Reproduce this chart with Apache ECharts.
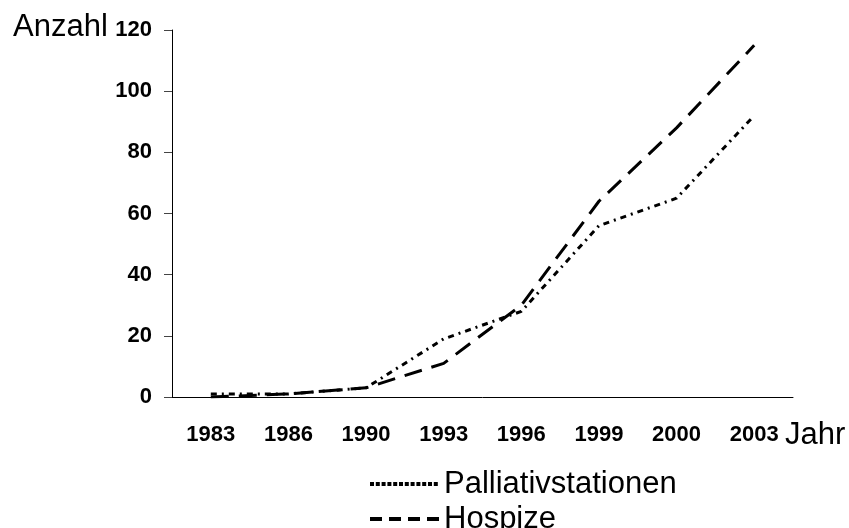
<!DOCTYPE html>
<html>
<head>
<meta charset="utf-8">
<script src="https://cdn.jsdelivr.net/npm/echarts@6/dist/echarts.min.js"></script>
<style>
html, body { margin: 0; padding: 0; background: #fff; }
#main { width: 849px; height: 528px; }
</style>
</head>
<body>
<div id="main"></div>
<script>
// Jahre und Werte
var jahre = ['1983', '1986', '1990', '1993', '1996', '1999', '2000', '2003'];
var palliativ = [1, 1, 3, 19, 28, 56, 65, 92];
var hospize = [0, 1, 3, 11, 30, 64, 88, 115];
var yTicks = [0, 20, 40, 60, 80, 100, 120];

var font = 'Liberation Sans, Arial, sans-serif';

// eine Legende pro Eintrag, untereinander
function makeLegend(name, top, dash) {
	return {
		orient: 'vertical',
		left: 368,
		top: top,
		padding: 0,
		itemWidth: 69,
		itemHeight: 14,
		textStyle: { color: '#000', fontFamily: font, fontSize: 31, lineHeight: 32 },
		data: [{
			name: name,
			itemStyle: { opacity: 0 }, // kein Punkt im Symbol
			lineStyle: { type: dash, width: 4, cap: 'butt', opacity: 1 }
		}]
	}
}

var myChart = echarts.init(document.getElementById('main'));
var option = {
	backgroundColor: '#fff',
	animation: false,
	grid: { left: 172, right: 56, top: 30, bottom: 131 },
	xAxis: {
		type: 'category',
		data: jahre,
		boundaryGap: true,
		axisLine: { lineStyle: { color: '#000', width: 1 } },
		axisTick: { show: false },
		axisLabel: { color: '#000', fontFamily: font, fontWeight: 'bold', fontSize: 22, margin: 27 }
	},
	yAxis: {
		type: 'value',
		min: yTicks[0],
		max: yTicks[yTicks.length - 1],
		interval: 20,
		splitLine: { show: false },
		axisLine: { show: true, lineStyle: { color: '#000', width: 1 } },
		axisTick: { show: true, length: 8, lineStyle: { color: '#444' } },
		axisLabel: { color: '#000', fontFamily: font, fontWeight: 'bold', fontSize: 22, margin: 20 }
	},
	legend: [
		makeLegend('Palliativstationen', 468, [4, 1.8]),
		makeLegend('Hospize', 503, [12, 7])
	],
	graphic: [
		{ type: 'text', left: 13, top: 12, style: { text: 'Anzahl', font: '31px ' + font, fill: '#000' } },
		{ type: 'text', left: 785, top: 420, style: { text: 'Jahr', font: '31px ' + font, fill: '#000' } }
	],
	series: [
		{
			name: 'Palliativstationen',
			type: 'line',
			data: palliativ,
			symbol: 'none',
			lineStyle: { color: '#000', width: 3, type: [6, 5, 2, 5] },
			itemStyle: { color: '#000' }
		},
		{
			name: 'Hospize',
			type: 'line',
			data: hospize,
			symbol: 'none',
			lineStyle: { color: '#000', width: 3, type: [18, 10] },
			itemStyle: { color: '#000' }
		}
	]
};
myChart.setOption(option);
</script>
</body>
</html>
